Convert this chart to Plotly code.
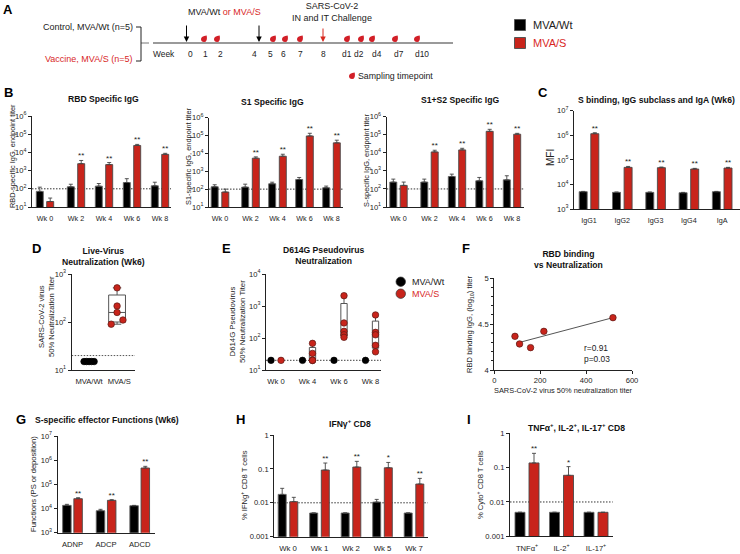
import plotly.graph_objects as go

W, H = 740, 554
FONT = "Liberation Sans"
INK = "#222222"
RED = "#c8241b"
REDTXT = "#d8281f"
BLACK = "#000000"

# ---- data -------------------------------------------------------------
wk_b = ["Wk 0", "Wk 2", "Wk 4", "Wk 6", "Wk 8"]
rbd_wt = [72, 129, 140, 221, 146]
rbd_wt_hi = [123, 178, 195, 360, 230]
rbd_s = [20, 2400, 2130, 24000, 7800]
rbd_s_hi = [31, 3600, 2770, 27500, 8900]
rbd_stars = ["", "**", "**", "**", "**"]

s1_wt = [136, 130, 200, 348, 120]
s1_wt_hi = [176, 190, 245, 450, 148]
s1_s = [69, 5400, 6950, 95000, 39000]
s1_s_hi = [100, 6400, 9000, 134000, 55000]

s12_wt = [240, 240, 490, 284, 318]
s12_wt_hi = [350, 350, 660, 433, 537]
s12_s = [157, 11200, 14500, 155000, 107000]
s12_s_hi = [240, 13900, 17800, 200000, 120000]

sub_cats = ["IgG1", "IgG2", "IgG3", "IgG4", "IgA"]
sub_wt = [5070, 4760, 4760, 4600, 5070]
sub_wt_hi = [5200, 4900, 4900, 4750, 5200]
sub_s = [1160000, 49500, 48000, 42400, 46500]
sub_s_hi = [1270000, 54000, 51000, 45000, 49500]
sub_stars = ["**", "**", "**", "**", "**"]

live_cats = ["MVA/Wt", "MVA/S"]
live_wt = [15, 15, 15, 15, 15]
live_s = [515, 215, 158, 110, 90]

pseudo_cats = ["Wk 0", "Wk 4", "Wk 6", "Wk 8"]
pseudo_wt = [20, 20, 20, 20]
pseudo_s_wk0 = [20]
pseudo_s_wk4 = [68, 33, 20, 20, 20]
pseudo_s_wk6 = [2100, 295, 162, 126, 105]
pseudo_s_wk8 = [525, 150, 126, 59, 37]

corr_x = [90, 110, 158, 216, 517]
corr_y = [4.366, 4.283, 4.243, 4.42, 4.569]
corr_line_x = [95, 517]
corr_line_y = [4.29, 4.569]

eff_cats = ["ADNP", "ADCP", "ADCD"]
eff_wt = [13500, 8130, 13100]
eff_wt_hi = [14900, 9250, 13500]
eff_s = [25500, 21800, 474000]
eff_s_hi = [28000, 23200, 556000]
eff_stars = ["**", "**", "**"]

ifn_cats = ["Wk 0", "Wk 1", "Wk 2", "Wk 5", "Wk 7"]
ifn_wt = [0.0177, 0.005, 0.005, 0.0105, 0.005]
ifn_wt_hi = [0.0267, 0.005, 0.005, 0.0126, 0.005]
ifn_s = [0.0108, 0.0927, 0.1135, 0.108, 0.0358]
ifn_s_hi = [0.0145, 0.149, 0.167, 0.155, 0.0525]
ifn_stars = ["", "**", "**", "*", "**"]

cyto_cats = ["TNFα<sup>+</sup>", "IL-2<sup>+</sup>", "IL-17<sup>+</sup>"]
cyto_wt = [0.005, 0.005, 0.005]
cyto_s = [0.137, 0.0598, 0.005]
cyto_s_hi = [0.261, 0.107, 0.005]
cyto_stars = ["**", "*", ""]

week_labels = ["Week", "0", "1", "2", "4", "5", "6", "7", "8", "d1", "d2", "d4", "d7", "d10"]
week_label_px = [164, 190, 205, 220, 255, 270, 283, 300, 323, 347, 359, 377, 399, 422]
sampling_px = [204, 217, 273, 285, 300, 347, 361, 372, 395, 417]

# ---- helpers ----------------------------------------------------------
fx = lambda x: x / W
fy = lambda y: 1 - y / H
fig = go.Figure()
shapes, annos = [], []


def text(x, y, s, size=7.6, color=INK, angle=0, xanchor="center"):
    annos.append(dict(xref="paper", yref="paper", x=fx(x), y=fy(y), text=s, showarrow=False,
                      font=dict(family=FONT, size=size, color=color), textangle=angle,
                      xanchor=xanchor, yanchor="middle", align="center",
                      borderpad=0, borderwidth=0))


def title(x, y, s, size=8.6):
    text(x, y, "<br>".join(f"<b>{p}</b>" for p in s.split("\n")), size=size, color="#111111")


def axes(n, x0, x1, ytop, ybot, xrange, yaxis, xticks, xlabels, xsize=7.2):
    xa = dict(domain=[fx(x0), fx(x1)], range=xrange, anchor=f"y{n}", showgrid=False, zeroline=False,
              showline=True, linecolor=INK, linewidth=1.2, ticks="", tickmode="array",
              tickvals=xticks, ticktext=xlabels, ticklabelstandoff=4,
              tickfont=dict(family=FONT, size=xsize, color=INK))
    ya = dict(domain=[fy(ybot), fy(ytop)], anchor=f"x{n}", showgrid=False, zeroline=False,
              showline=True, linecolor=INK, linewidth=1.2, ticks="outside", ticklen=3, tickwidth=1,
              tickcolor=INK, tickfont=dict(family=FONT, size=7.6, color=INK))
    ya.update(yaxis)
    fig.update_layout({f"xaxis{n}": xa, f"yaxis{n}": ya})


def log_axis(lo, hi, plain=False):
    vals = [10.0 ** k for k in range(lo, hi + 1)]
    if plain:
        labels = [("%g" % v) for v in vals]
    else:
        labels = [f"10<sup>{k}</sup>" for k in range(lo, hi + 1)]
    return dict(type="log", range=[lo, hi], tickmode="array", tickvals=vals, ticktext=labels)


def dotted(n, value, color="#333333", width=1.0):
    shapes.append(dict(type="line", xref=f"x{n} domain", yref=f"y{n}", x0=0, x1=1, y0=value, y1=value,
                       layer="below", line=dict(color=color, width=width, dash="1.5px,1.5px")))


def bars(n, x0, x1, ytop, ybot, yax, cats, wt, wt_hi, s, s_hi, stars, c0, step, off, w,
         gap0=0.0, ref=None, xsize=7.2, star_size=8):
    pos = [i + (gap0 / step if i > 0 else 0) for i in range(len(cats))]
    xr = [(x0 - c0) / step, (x1 - c0) / step]
    axes(n, x0, x1, ytop, ybot, xr, yax, pos, cats, xsize)
    d, bw = off / step, w / step
    for vals, hi, sign, col, edge, nm in ((wt, wt_hi, -1, BLACK, "#666666", "MVA/Wt"),
                                          (s, s_hi, 1, RED, "#4a4a4a", "MVA/S")):
        fig.add_trace(go.Bar(
            x=[p + sign * d for p in pos], y=vals, width=bw, name=nm, showlegend=False,
            xaxis=f"x{n}", yaxis=f"y{n}",
            marker=dict(color=col, line=dict(color=edge, width=0.9)),
            error_y=dict(type="data", symmetric=False, array=[h - v for h, v in zip(hi, vals)],
                         arrayminus=[0] * len(vals), color="#444444", thickness=0.9, width=2)))
    fig.add_trace(go.Scatter(
        x=[p + d for p in pos], y=s_hi, text=stars, mode="text", textposition="top center",
        textfont=dict(family=FONT, size=star_size, color=INK), showlegend=False, cliponaxis=False,
        hoverinfo="skip", xaxis=f"x{n}", yaxis=f"y{n}"))
    if ref is not None:
        dotted(n, ref)


def box(n, pos, values, width):
    fig.add_trace(go.Box(x=[pos] * len(values), y=values, width=width, boxpoints=False,
                         quartilemethod="exclusive", fillcolor="white", whiskerwidth=0.5,
                         line=dict(color="#555555", width=1), showlegend=False,
                         xaxis=f"x{n}", yaxis=f"y{n}", name="MVA/S"))


def dots(n, xs, ys, color, edge, size=6.5):
    fig.add_trace(go.Scatter(x=xs, y=ys, mode="markers", showlegend=False, cliponaxis=False,
                             marker=dict(color=color, size=size, line=dict(color=edge, width=0.7)),
                             xaxis=f"x{n}", yaxis=f"y{n}"))


# ---- panel A (schematic) ----------------------------------------------
def hline(x0, x1, y, color=INK, width=1.0):
    shapes.append(dict(type="line", xref="paper", yref="paper", x0=fx(x0), x1=fx(x1), y0=fy(y), y1=fy(y),
                       line=dict(color=color, width=width)))


def drop(x, y, r=3.0):
    pts = (f"M {fx(x - r)} {fy(y)} "
           f"Q {fx(x - r)} {fy(y - r)} {fx(x + r * 0.9)} {fy(y - r * 1.2)} "
           f"Q {fx(x + r * 1.3)} {fy(y + r)} {fx(x)} {fy(y + r)} "
           f"Q {fx(x - r)} {fy(y + r)} {fx(x - r)} {fy(y)} Z")
    shapes.append(dict(type="path", xref="paper", yref="paper", path=pts,
                       fillcolor="#d21f27", line=dict(width=0)))


def arrow(x, y0, y1, color):
    annos.append(dict(xref="paper", yref="paper", x=fx(x), y=fy(y1), ax=0, ay=-(y1 - y0), text="",
                      showarrow=True, arrowhead=2, arrowsize=1.1, arrowwidth=1, arrowcolor=color,
                      standoff=0))


hline(153, 453, 43, "#9a9a9a", 2)
hline(141, 149, 43, "#777777", 1)
hline(136, 141, 27)
hline(136, 141, 61)
shapes.append(dict(type="line", xref="paper", yref="paper", x0=fx(141), x1=fx(141), y0=fy(27), y1=fy(61),
                   line=dict(color=INK, width=1)))
text(88, 27, "Control, MVA/Wt (n=5)", 9)
text(88, 59, "Vaccine, MVA/S (n=5)", 9, REDTXT)
for lab, px in zip(week_labels, week_label_px):
    text(px, 54.5, lab, 8.4)
for px in sampling_px:
    drop(px, 39)
arrow(186.5, 24, 42, BLACK)
arrow(259, 24, 42, BLACK)
arrow(323, 27, 42, "#d8281f")
text(224, 12, f'MVA/Wt <span style="color:{REDTXT}">or MVA/S</span>', 9)
text(331.5, 12.5, "SARS-CoV-2<br>IN and IT Challenge", 9)
drop(352, 76)
text(358, 76, "Sampling timepoint", 8.8, xanchor="left")

# legend, panel A
for yy, col, edge, lab, tc in ((25, BLACK, "#555555", "MVA/Wt", INK), (43, RED, "#555555", "MVA/S", REDTXT)):
    shapes.append(dict(type="rect", xref="paper", yref="paper", x0=fx(514.5), x1=fx(525.5), y0=fy(yy + 5.5),
                       y1=fy(yy - 5.5), fillcolor=col, line=dict(color=edge, width=1)))
    text(533, yy, lab, 11, tc, xanchor="left")

# ---- panel B ----------------------------------------------------------
y_b = log_axis(1, 6)
bars(11, 32, 171, 116, 207, y_b, wk_b, rbd_wt, rbd_wt_hi, rbd_s, rbd_s_hi, rbd_stars, 45, 28, 5.2, 7, 3, ref=100)
bars(2, 209, 343, 117.7, 207, y_b, wk_b, s1_wt, s1_wt_hi, s1_s, s1_s_hi, rbd_stars, 220, 27, 5.3, 7, 3.5, ref=100)
bars(3, 386.7, 524, 116.7, 207, y_b, wk_b, s12_wt, s12_wt_hi, s12_s, s12_s_hi, rbd_stars, 398.5, 27.5, 5.2, 7, 3.5, ref=100)
title(103, 99, "RBD Specific IgG")
title(272, 102, "S1 Specific IgG")
title(460, 100, "S1+S2 Specific IgG")
text(12, 156, "RBD-specific IgG, endpoint titer", 7.4, angle=-90)
text(188, 157, "S1-specific IgG, endpoint titer", 7.4, angle=-90)
text(366, 161, "S-specific IgG, endpoint titer", 7.4, angle=-90)

# ---- panel C ----------------------------------------------------------
bars(4, 574, 740, 110.7, 209, log_axis(3, 7), sub_cats, sub_wt, sub_wt_hi, sub_s, sub_s_hi, sub_stars,
     589, 33.3, 5.8, 8, xsize=7.2)
title(656, 100, "S binding, IgG subclass and IgA (Wk6)")
text(550, 158, "MFI", 10, angle=-90)

# ---- panel D ----------------------------------------------------------
axes(5, 71.7, 135, 274, 370, [-0.62, 1.64], log_axis(1, 3), [0, 1.08], live_cats, 7.6)
dotted(5, 20, "#555555")
box(5, 1, live_s, 0.6)
dots(5, [-0.18, -0.09, 0, 0.09, 0.18], live_wt, BLACK, BLACK)
dots(5, [1, 1, 1, 1.21, 0.79], live_s, RED, "#5a1a16")
title(103, 256.5, "Live-Virus\nNeutralization (Wk6)")
text(46, 317, "SARS-CoV-2 virus<br>50% Neutralization Titer", 7.6, angle=-90)

# ---- panel E ----------------------------------------------------------
c0_e, step_e = 276, 31.5
axes(6, 266, 381, 274, 370, [(266 - c0_e) / step_e, (381 - c0_e) / step_e], log_axis(1, 4),
     [0, 1, 2, 3], pseudo_cats, 7.6)
dotted(6, 20, "#666666", 1.2)
off_e = 5 / step_e
box(6, 1 + off_e, pseudo_s_wk4, 0.2)
box(6, 2 + off_e, pseudo_s_wk6, 0.2)
box(6, 3 + off_e, pseudo_s_wk8, 0.2)
dots(6, [i - off_e for i in range(4)], pseudo_wt, BLACK, BLACK)
dots(6, [0 + off_e] * len(pseudo_s_wk0), pseudo_s_wk0, RED, "#5a1a16")
dots(6, [1 + off_e] * 5, pseudo_s_wk4, RED, "#5a1a16")
dots(6, [2 + off_e] * 5, pseudo_s_wk6, RED, "#5a1a16")
dots(6, [3 + off_e] * 5, pseudo_s_wk8, RED, "#5a1a16")
title(323, 255.5, "D614G Pseudovirus\nNeutralization")
text(237, 322, "D614G Pseudovirus<br>50% Neutralization Titer", 7.8, angle=-90)
for yy, col, lab, tc in ((281.7, BLACK, "MVA/Wt", INK), (293.7, RED, "MVA/S", REDTXT)):
    shapes.append(dict(type="circle", xref="paper", yref="paper", x0=fx(396), x1=fx(405.5), y0=fy(yy + 4.7),
                       y1=fy(yy - 4.7), fillcolor=col, line=dict(color="#333333", width=0.7)))
    text(411.5, yy, lab, 9, tc, xanchor="left")

# ---- panel F ----------------------------------------------------------
axes(7, 494.3, 632, 278, 370, [0, 600], dict(range=[4, 5], tickmode="array", tickvals=[4, 4.5, 5],
     ticktext=["4", "4.5", "5"], minor=dict(ticks="outside", ticklen=2, tickcolor=INK, dtick=0.1, tick0=4)),
     [0, 200, 400, 600], ["0", "200", "400", "600"], 7.6)
fig.update_layout(xaxis7=dict(ticks="outside", ticklen=3, tickcolor=INK, tickwidth=1, ticklabelstandoff=0))
fig.add_trace(go.Scatter(x=corr_line_x, y=corr_line_y, mode="lines", line=dict(color="#555555", width=1),
                         showlegend=False, xaxis="x7", yaxis="y7"))
dots(7, corr_x, corr_y, RED, "#5a1a16")
title(568, 259, "RBD binding\nvs Neutralization")
text(470, 324, "RBD binding IgG, (log<sub>10</sub>) titer", 7.6, angle=-90)
text(563, 390.5, "SARS-CoV-2 virus 50% neutralization titer", 7.4)
text(584, 348, "r=0.91", 8.4, xanchor="left")
text(584, 358.5, "p=0.03", 8.4, xanchor="left")

# ---- panel G ----------------------------------------------------------
bars(8, 57.7, 155, 436, 532.7, log_axis(3, 7), eff_cats, eff_wt, eff_wt_hi, eff_s, eff_s_hi, eff_stars,
     72.5, 33.6, 5.6, 8.5, xsize=7.6)
title(107, 420, "S-specific effector Functions (Wk6)")
text(33, 484, "Functions (PS or deposition)", 7.6, angle=-90)

# ---- panel H ----------------------------------------------------------
y_h = log_axis(-3, 0, plain=True)
bars(9, 274.3, 427.7, 435, 536.7, y_h, ifn_cats, ifn_wt, ifn_wt_hi, ifn_s, ifn_s_hi, ifn_stars,
     288, 31.5, 5.8, 8, ref=0.01, xsize=7.8)
title(350, 423, "IFNγ<sup>+</sup> CD8")
text(244, 485, "% IFNg<sup>+</sup> CD8 T cells", 7.6, angle=-90)

# ---- panel I ----------------------------------------------------------
bars(10, 510, 612.7, 433.3, 536.3, y_h, cyto_cats, cyto_wt, cyto_wt, cyto_s, cyto_s_hi, cyto_stars,
     527, 34.5, 7, 10, ref=0.01, xsize=7.6)
title(576, 427, "TNFα<sup>+</sup>, IL-2<sup>+</sup>, IL-17<sup>+</sup> CD8")
text(480, 485, "% Cyto<sup>+</sup> CD8 T cells", 7.6, angle=-90)

# ---- panel letters ----------------------------------------------------
for lab, lx, ly in (("A", 8, 9), ("B", 8, 93), ("C", 543, 93), ("D", 36, 249), ("E", 227, 249),
                    ("F", 466, 249), ("G", 21, 419), ("H", 240, 419), ("I", 469, 419)):
    text(lx, ly, f"<b>{lab}</b>", 13, "#000000")

fig.update_layout(width=W, height=H, autosize=False, margin=dict(l=0, r=0, t=0, b=0, pad=0, autoexpand=False),
                  paper_bgcolor="white", plot_bgcolor="white", barmode="overlay", boxmode="overlay",
                  showlegend=False, font=dict(family=FONT, color=INK), shapes=shapes, annotations=annos)
fig.write_html("out.html", config={"displayModeBar": False},
               post_script="document.body.style.margin='0';document.body.style.overflow='hidden';")
